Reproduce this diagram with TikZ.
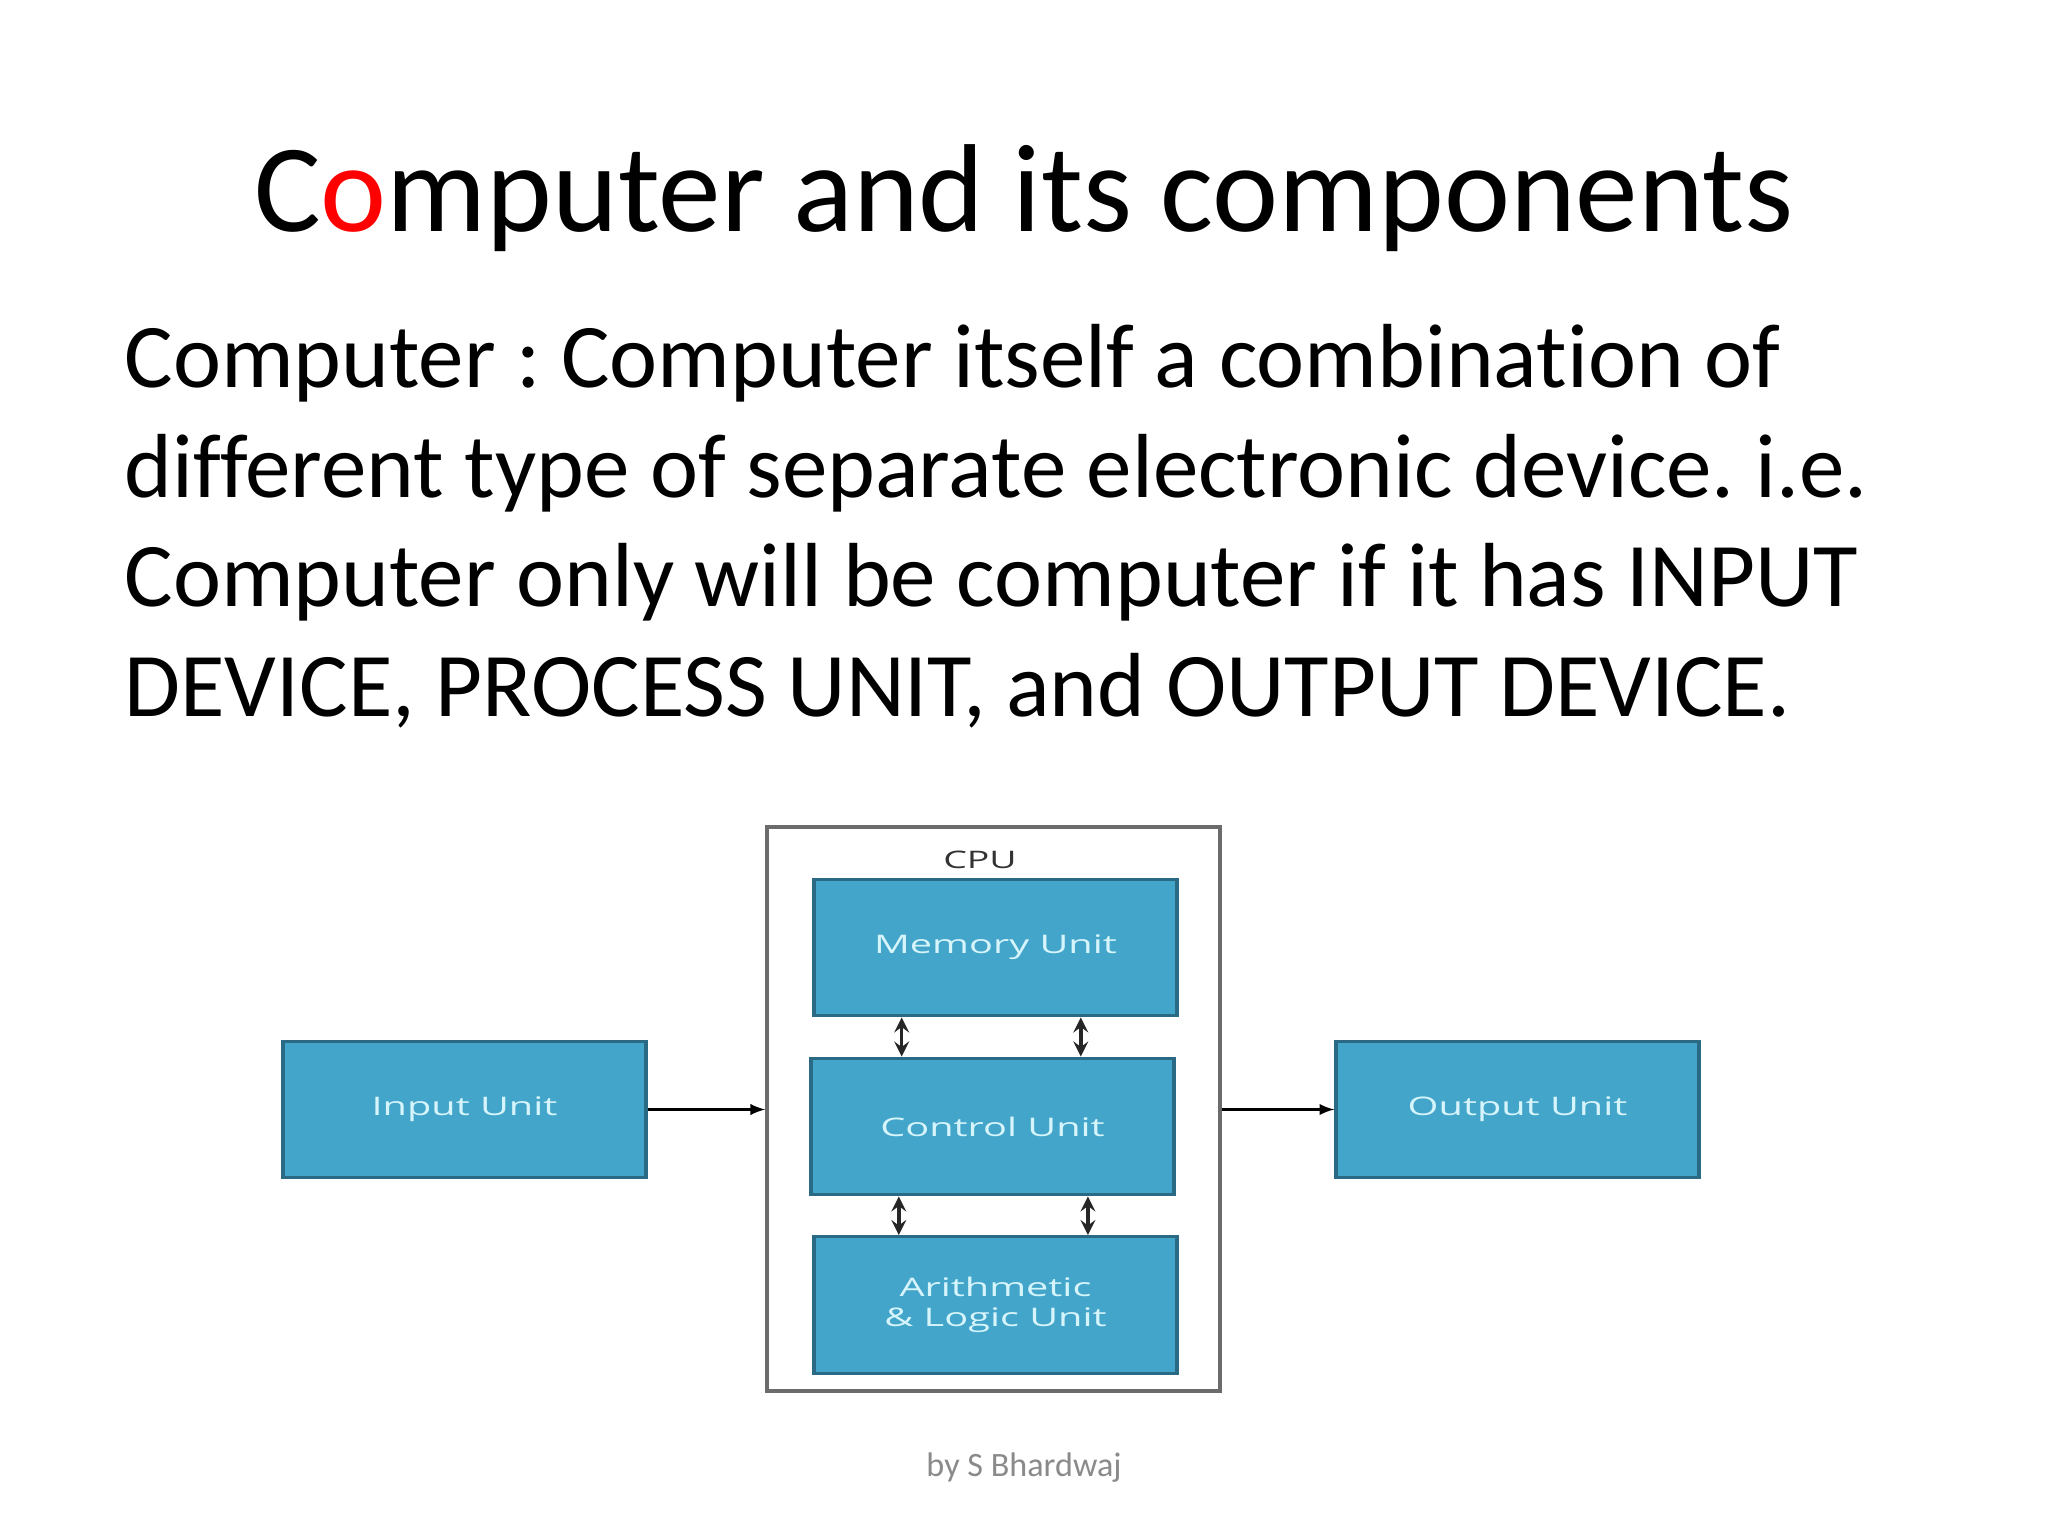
\documentclass[tikz,border=0pt]{standalone}
\usepackage{fontspec}
\setmainfont{Carlito}[Ligatures=NoCommon]
\newfontfamily\unitfont{Open Sans}
\usepackage{graphicx}
\usetikzlibrary{arrows, positioning}
\definecolor{unitfill}{HTML}{42A5C9}
\definecolor{unitedge}{HTML}{2A6A84}
\definecolor{unittext}{HTML}{D6F4FB}
\definecolor{cpuedge}{HTML}{6B6B6B}
\definecolor{footgray}{HTML}{8A8A8A}
\newcommand{\unitlabel}[1]{\scalebox{1.55}[1]{#1}}
\frenchspacing
\tikzset{
  unit/.style={draw=unitedge, line width=1.2pt, fill=unitfill, minimum width=127.6pt,
    minimum height=48pt, inner sep=0pt, text=unittext, align=center,
    font=\unitfont\fontsize{9}{10.5}\selectfont},
  bodyline/.style={anchor=base west, inner sep=0pt, font=\fontsize{32}{38.4}\selectfont},
  link/.style={line width=0.8pt, >=latex},
  twoway/.style={line width=1.3pt, <->, >=stealth, black!85}
}

\begin{document}
\begin{tikzpicture}[x=0.3515625pt, y=-0.3515625pt]
    \fill[white] (0,0) rectangle (2048,1536);
    \useasboundingbox (0,0) rectangle (2048,1536);
    % heading and text
    \node[anchor=base, inner sep=0pt, font=\fontsize{44}{52}\selectfont] (title) at (1024,232) {C\textcolor{red}{o}mputer and its components};
    \node[bodyline] (line1) at (124,388) {Computer : Computer itself a combination of};
    \node[bodyline] (line2) at (124,498) {different type of separate electronic device. i.e.};
    \node[bodyline] (line3) at (124,607) {Computer only will be computer if it has INPUT};
    \node[bodyline] (line4) at (124,716) {DEVICE, PROCESS UNIT, and OUTPUT DEVICE.};
    % diagram
    \node[draw=cpuedge, line width=1.2pt, minimum width=159.3pt, minimum height=198.3pt, inner sep=0pt] (cpu) at (993.5,1109) {};
    \node[inner sep=0pt, text=black!80, font=\unitfont\fontsize{8.5}{10}\selectfont] (cpulabel) at (980,860) {\unitlabel{CPU}};
    \node[unit] (mem) at (995.5,947.5) {\unitlabel{Memory Unit}};
    \node[unit] (ctrl) at (992.5,1126.5) {\unitlabel{Control Unit}};
    \node[unit] (alu) at (995.5,1305) {\unitlabel{Arithmetic}\\\unitlabel{\& Logic Unit}};
    \node[unit] (inp) at (464.5,1109.5) {\unitlabel{Input Unit}};
    \node[unit] (outp) at (1517.5,1109.5) {\unitlabel{Output Unit}};
    \draw[link, ->] (inp.east) -- (inp.east -| cpu.west);
    \draw[link, ->] (cpu.east |- outp.west) -- (outp.west);
    \draw[twoway] ([xshift=-33pt]mem.south) -- ([xshift=-33pt]mem.south |- ctrl.north);
    \draw[twoway] ([xshift=30pt]mem.south) -- ([xshift=30pt]mem.south |- ctrl.north);
    \draw[twoway] ([xshift=-34pt]alu.north) -- ([xshift=-34pt]alu.north |- ctrl.south);
    \draw[twoway] ([xshift=32.5pt]alu.north) -- ([xshift=32.5pt]alu.north |- ctrl.south);
    \node[anchor=base, inner sep=0pt, text=footgray, font=\fontsize{12}{14}\selectfont] (footer) at (1024,1476) {by S Bhardwaj};
\end{tikzpicture}
\end{document}
